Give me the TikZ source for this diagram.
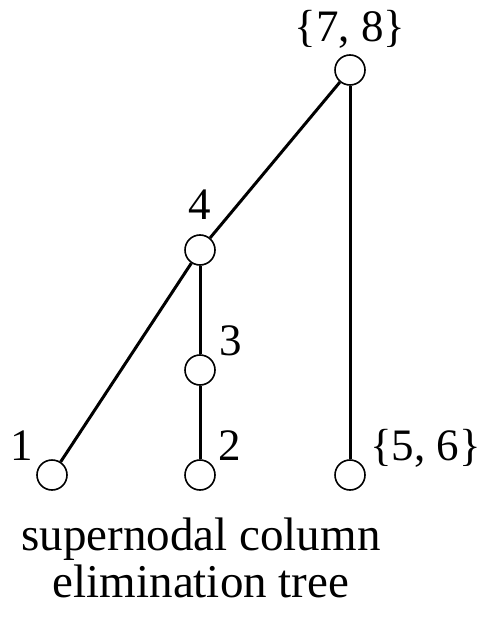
\documentclass[tikz,border=0pt]{standalone}
\usepackage{fontspec}
\setmainfont{Liberation Serif}
\begin{document}
\begin{tikzpicture}[x=1pt,y=-1pt,
  treenode/.style={circle,draw,line width=1.6pt,minimum size=30pt,inner sep=0pt,fill=white},
  lbl/.style={font=\fontsize{45}{50}\selectfont,inner sep=0pt},
  captext/.style={font=\fontsize{47}{54}\selectfont,inner sep=0pt,anchor=base},
  edgeline/.style={line width=3pt}]
\useasboundingbox (0,0) rectangle (483,617);
\node[treenode] (n78) at (350,70) {};
\node[treenode] (n4) at (200,250) {};
\node[treenode] (n3) at (200,370) {};
\node[treenode] (n1) at (52,475) {};
\node[treenode] (n2) at (200,475) {};
\node[treenode] (n56) at (350,475) {};
\draw[edgeline] (n78) -- (n4);
\draw[edgeline] (n78) -- (n56);
\draw[edgeline] (n4) -- (n1);
\draw[edgeline] (n4) -- (n3);
\draw[edgeline] (n3) -- (n2);
\node[lbl,anchor=base] (l78) at (350,42) {\{7, 8\}};
\node[lbl,anchor=base] (l4) at (200,220) {4};
\node[lbl,anchor=base west] (l3) at (219,355) {3};
\node[lbl,anchor=base east] (l1) at (33,460) {1};
\node[lbl,anchor=base west] (l2) at (218,460) {2};
\node[lbl,anchor=base west] (l56) at (370,460) {\{5, 6\}};
\node[captext] (c1) at (201,550) {supernodal column};
\node[captext] (c2) at (201,597) {elimination tree};
\end{tikzpicture}
\end{document}
